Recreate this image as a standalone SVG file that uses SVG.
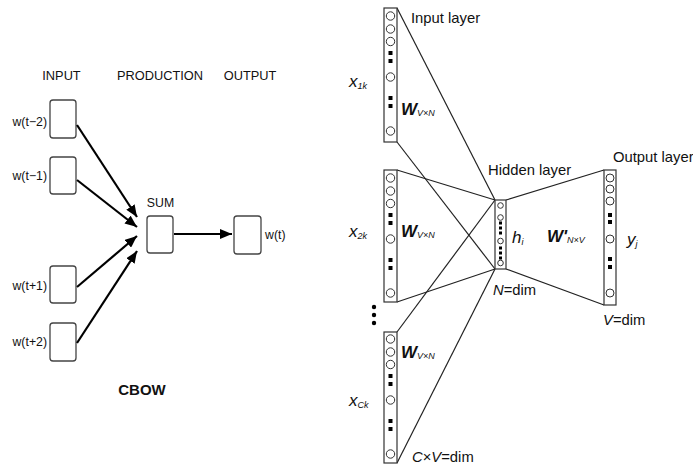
<svg xmlns="http://www.w3.org/2000/svg" xmlns:xlink="http://www.w3.org/1999/xlink" width="693" height="465" viewBox="0 0 693 465">
<style>
text{font-family:"Liberation Sans",Arial,sans-serif;fill:#111}
.hdr{font-size:12.8px}
.lbl{font-size:12.3px}
.box{fill:#fff;stroke:#444;stroke-width:1.3}
.arr{stroke:#000;stroke-width:2.2;fill:none}
.col{fill:#fff;stroke:#333;stroke-width:1.2}
.cir{fill:#fff;stroke:#333;stroke-width:1}
.sq{fill:#000}
.ln{stroke:#222;stroke-width:1.2;fill:none}
.big{font-size:14.8px}
.it{font-style:italic}
.var{font-style:italic;font-size:17px}
.w{font-style:italic;font-size:17px;font-weight:600}
.sub{font-size:9px;font-style:italic;font-weight:normal}
</style>
<defs>
<marker id="ah" viewBox="0 0 12 10" refX="12" refY="5" markerWidth="12" markerHeight="10" markerUnits="userSpaceOnUse" orient="auto">
<path d="M0,0 L12,5 L0,10 z" fill="#000"/>
</marker>
<g id="colItems">
<circle class="cir" cx="390.5" cy="8" r="4.2"/>
<circle class="cir" cx="390.5" cy="21" r="4.2"/>
<circle class="cir" cx="390.5" cy="33.5" r="4.2"/>
<rect class="sq" x="388.5" y="43" width="4" height="4"/>
<rect class="sq" x="388.5" y="51" width="4" height="4"/>
<circle class="cir" cx="390.5" cy="69" r="4.2"/>
<rect class="sq" x="388.5" y="88" width="4" height="4"/>
<rect class="sq" x="388.5" y="96" width="4" height="4"/>
<circle class="cir" cx="390.5" cy="123" r="4.2"/>
</g>
</defs>

<!-- CBOW (left) -->
<g id="headers">
<text class="hdr" x="61.5" y="80" text-anchor="middle">INPUT</text>
<text class="hdr" x="160" y="80" text-anchor="middle">PRODUCTION</text>
<text class="hdr" x="250" y="80" text-anchor="middle">OUTPUT</text>
</g>
<g id="in_tm2"><rect class="box" x="50" y="100" width="26" height="38" rx="3"/><text class="lbl" x="47" y="126" text-anchor="end">w(t−2)</text></g>
<g id="in_tm1"><rect class="box" x="50" y="157" width="26" height="37" rx="3"/><text class="lbl" x="47" y="180" text-anchor="end">w(t−1)</text></g>
<g id="in_tp1"><rect class="box" x="50" y="266" width="26" height="37" rx="3"/><text class="lbl" x="47" y="290" text-anchor="end">w(t+1)</text></g>
<g id="in_tp2"><rect class="box" x="50" y="323" width="26" height="38" rx="3"/><text class="lbl" x="47" y="346" text-anchor="end">w(t+2)</text></g>
<g id="sum"><rect class="box" x="147" y="216" width="26" height="37" rx="3"/><text class="lbl" x="160.5" y="207" text-anchor="middle">SUM</text></g>
<g id="out_wt"><rect class="box" x="234" y="216" width="27" height="38" rx="3"/><text class="lbl" x="265" y="239">w(t)</text></g>
<g id="cbow_title"><text x="142" y="395" text-anchor="middle" font-weight="bold" font-size="15px">CBOW</text></g>
<g id="cbow_connectors">
<line class="arr" x1="77" y1="125" x2="137" y2="217" marker-end="url(#ah)"/>
<line class="arr" x1="77" y1="180" x2="137" y2="227" marker-end="url(#ah)"/>
<line class="arr" x1="77" y1="287" x2="137" y2="236" marker-end="url(#ah)"/>
<line class="arr" x1="77" y1="343" x2="137" y2="251" marker-end="url(#ah)"/>
<line class="arr" x1="174" y1="234" x2="232" y2="234" marker-end="url(#ah)"/>
</g>

<!-- Network (right) -->
<g id="connectors">
<line class="ln" x1="397" y1="8" x2="495" y2="200"/>
<line class="ln" x1="397" y1="142" x2="495" y2="269"/>
<line class="ln" x1="397" y1="170" x2="495" y2="200"/>
<line class="ln" x1="397" y1="302" x2="495" y2="269"/>
<line class="ln" x1="397" y1="332" x2="495" y2="200"/>
<line class="ln" x1="397" y1="463" x2="495" y2="269"/>
<line class="ln" x1="506" y1="200" x2="604" y2="170"/>
<line class="ln" x1="506" y1="269" x2="604" y2="305"/>
</g>

<g id="input1">
<rect class="col" x="384" y="8" width="13" height="134"/>
<use xlink:href="#colItems" transform="translate(0,8)"/>
<text class="big" x="411" y="23">Input layer</text>
<text class="var" x="349" y="87">x<tspan class="sub" dy="2">1k</tspan></text>
<text class="w" x="401" y="115">W<tspan class="sub" font-size="8px" dy="1">V×N</tspan></text>
</g>
<g id="input2">
<rect class="col" x="384" y="170" width="13" height="132"/>
<use xlink:href="#colItems" transform="translate(0,170)"/>
<text class="var" x="349" y="237">x<tspan class="sub" dy="2">2k</tspan></text>
<text class="w" x="401" y="237">W<tspan class="sub" font-size="8px" dy="1">V×N</tspan></text>
</g>
<g id="ellipsis">
<circle cx="374" cy="307" r="2.2" fill="#000"/>
<circle cx="374" cy="315" r="2.2" fill="#000"/>
<circle cx="374" cy="323" r="2.2" fill="#000"/>
</g>
<g id="inputC">
<rect class="col" x="384" y="332" width="13" height="131"/>
<use xlink:href="#colItems" transform="translate(0,331)"/>
<text class="var" x="349" y="406">x<tspan class="sub" dy="2">Ck</tspan></text>
<text class="w" x="401" y="358">W<tspan class="sub" font-size="8px" dy="1">V×N</tspan></text>
<text class="big" x="412" y="462"><tspan class="it">C</tspan>×<tspan class="it">V</tspan>=dim</text>
</g>
<g id="hidden">
<rect class="col" x="495" y="200" width="11" height="69"/>
<circle class="cir" cx="500.5" cy="205.5" r="2.8"/>
<circle class="cir" cx="500.5" cy="217.5" r="2.8"/>
<rect class="sq" x="499" y="221.5" width="3" height="3"/>
<rect class="sq" x="499" y="226.5" width="3" height="3"/>
<rect class="sq" x="499" y="231.5" width="3" height="3"/>
<circle class="cir" cx="500.5" cy="241" r="2.8"/>
<rect class="sq" x="499" y="246.5" width="3" height="3"/>
<rect class="sq" x="499" y="251.5" width="3" height="3"/>
<rect class="sq" x="499" y="256.5" width="3" height="3"/>
<circle class="cir" cx="500.5" cy="263" r="2.8"/>
<text class="big" x="488" y="175">Hidden layer</text>
<text class="var" x="512" y="243">h<tspan class="sub" font-size="8px" dy="2">i</tspan></text>
<text class="big" x="493" y="295"><tspan class="it">N</tspan>=dim</text>
<text class="w" x="547" y="242">W'<tspan class="sub" font-size="8px" dy="1">N×V</tspan></text>
</g>
<g id="output">
<rect class="col" x="604" y="170" width="12" height="135"/>
<circle class="cir" cx="610" cy="178" r="4"/>
<circle class="cir" cx="610" cy="189" r="4"/>
<circle class="cir" cx="610" cy="201" r="4"/>
<rect class="sq" x="608" y="213" width="4" height="4"/>
<rect class="sq" x="608" y="220" width="4" height="4"/>
<circle class="cir" cx="610" cy="239" r="4"/>
<rect class="sq" x="608" y="257" width="4" height="4"/>
<rect class="sq" x="608" y="265" width="4" height="4"/>
<circle class="cir" cx="610" cy="293" r="4"/>
<text class="big" x="613" y="162">Output layer</text>
<text class="var" x="627" y="245">y<tspan class="sub" font-size="8px" dy="2">j</tspan></text>
<text class="big" x="603" y="325"><tspan class="it">V</tspan>=dim</text>
</g>
</svg>
